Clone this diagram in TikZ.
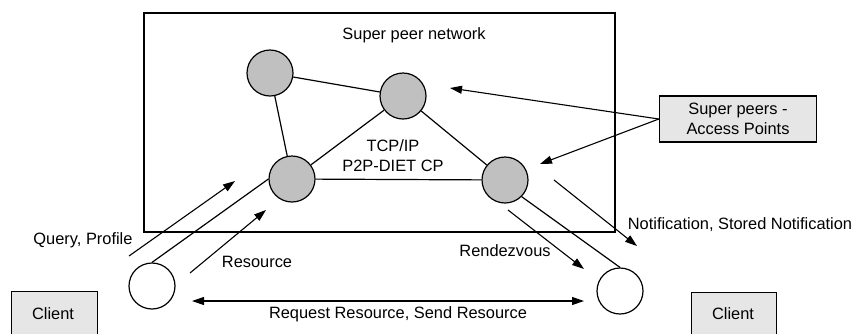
\documentclass[tikz,border=0pt]{standalone}
\usepackage{fontspec}
\setmainfont{Liberation Sans}
\usetikzlibrary{arrows.meta}
\begin{document}
\begin{tikzpicture}[x=1pt,y=-1pt,
  every node/.style={font=\fontsize{16.4}{19.5}\selectfont},
  peer/.style={circle,draw,line width=1.2pt,fill=peergray,minimum size=46pt,inner sep=0pt},
  client/.style={circle,draw,line width=1.2pt,fill=white,minimum size=46pt,inner sep=0pt},
  link/.style={line width=1.2pt},
  msg/.style={line width=1.1pt,-{Triangle[length=12pt,width=8pt]}},
  graybox/.style={draw,line width=1.4pt,fill=boxgray,inner sep=0pt},
  lbl/.style={inner sep=0pt,anchor=center}]
\definecolor{peergray}{HTML}{C0C0C0}
\definecolor{boxgray}{HTML}{E6E6E6}
\useasboundingbox (0,0) rectangle (858,333);
\begin{scope}
\clip (0,0) rectangle (858,333);
% network frame
\draw[line width=1.3pt] (144,13) rectangle (615,232);
\node[lbl] (title) at (414,35) {Super peer network};
% peers
\node[peer] (p1) at (270,73) {};
\node[peer] (p2) at (403,96) {};
\node[peer] (p3) at (292,179) {};
\node[peer] (p4) at (505,180) {};
\draw[link] (p1) -- (p2);
\draw[link] (p1) -- (p3);
\draw[link] (p2) -- (p3);
\draw[link] (p3) -- (p4);
\draw[link] (p2) -- (p4);
\node[lbl] (tcp) at (393,146) {TCP/IP};
\node[lbl] (cp) at (393,166) {P2P-DIET CP};
% clients
\node[client] (c1) at (152,286) {};
\node[client] (c2) at (620,291) {};
\draw[link] (c1.north) -- (p3.west);
\draw[link] (p4.south east) -- (c2.north);
% client boxes
\node[graybox,minimum width=86pt,minimum height=60pt,anchor=north west] (cb1) at (11,291) {};
\node[lbl] (cb1t) at (53,314) {Client};
\node[graybox,minimum width=85pt,minimum height=60pt,anchor=north west] (cb2) at (691,292) {};
\node[lbl] (cb2t) at (733,314) {Client};
% super peers box
\node[graybox,minimum width=157pt,minimum height=46pt,align=center] (sp) at (738,119) {Super peers -\\Access Points};
\coordinate (spa) at (450,88);
\coordinate (spb) at (540,164);
\draw[msg] (sp.west) -- (spa);
\draw[msg] (sp.west) -- (spb);
% messages
\coordinate (q1) at (129,256); \coordinate (q2) at (235,181);
\draw[msg] (q1) -- (q2);
\node[lbl] (ql) at (83,240) {Query, Profile};
\coordinate (r1) at (190,273); \coordinate (r2) at (266,210);
\draw[msg] (r1) -- (r2);
\node[lbl] (rl) at (257,262) {Resource};
\coordinate (s1) at (192,301); \coordinate (s2) at (584,301);
\draw[msg,{Triangle[length=12pt,width=8pt]}-{Triangle[length=12pt,width=8pt]}] (s1) -- (s2);
\node[lbl] (sl) at (398,314) {Request Resource, Send Resource};
\coordinate (z1) at (508,210); \coordinate (z2) at (584,269);
\draw[msg] (z1) -- (z2);
\node[lbl] (zl) at (505,251) {Rendezvous};
\coordinate (n1) at (554,180); \coordinate (n2) at (637,246);
\draw[msg] (n1) -- (n2);
\node[lbl] (nl) at (740,225) {Notification, Stored Notification};
\end{scope}
\end{tikzpicture}
\end{document}
